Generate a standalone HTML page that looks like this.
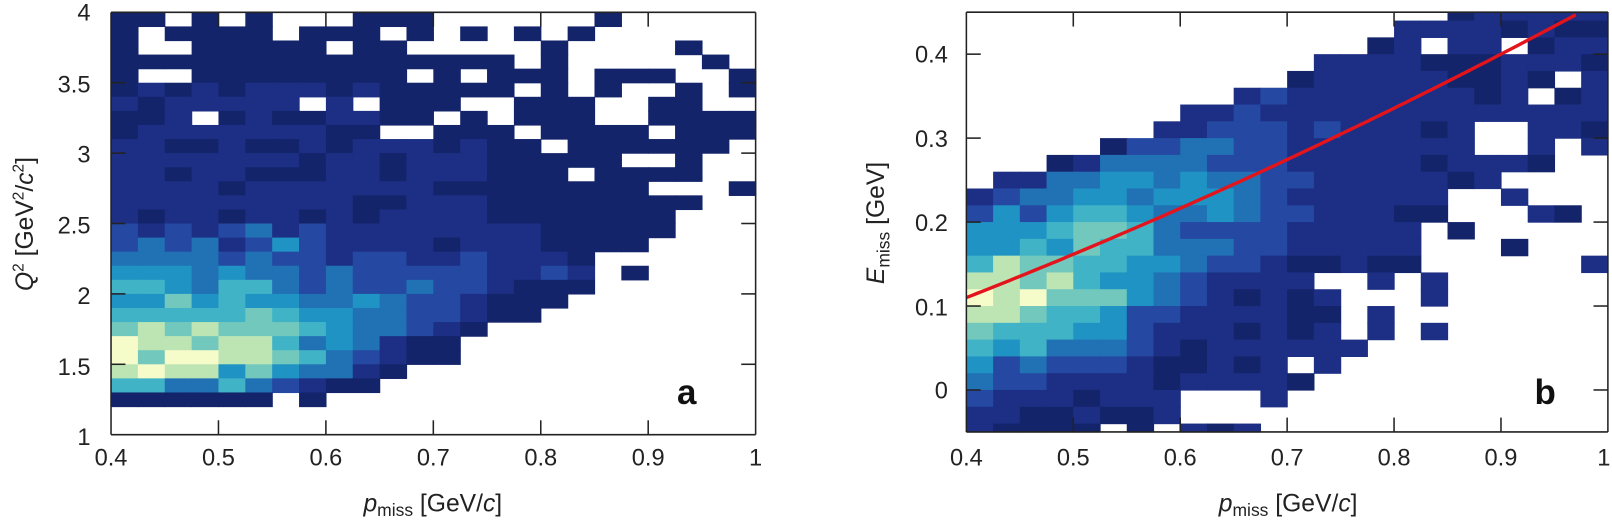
<!DOCTYPE html>
<html><head><meta charset="utf-8">
<style>
html,body{margin:0;padding:0;background:#fff;}
svg{display:block;font-family:"Liberation Sans","DejaVu Sans",sans-serif;}
</style></head>
<body>
<svg id="s" width="1612" height="521" viewBox="0 0 1568 507" preserveAspectRatio="none" xmlns="http://www.w3.org/2000/svg">
<rect width="1568" height="507" fill="#fff"/>
<g id="ga"></g><g id="gb"></g>
<polyline id="red" fill="none" stroke="#e3141b" stroke-width="3.3" points=""/>
<g id="frame" stroke="#222" stroke-width="1.5" fill="none"></g>
<g font-size="23" fill="#222" text-anchor="middle">
<text x="108" y="453">0.4</text><text x="212.5" y="453">0.5</text><text x="317" y="453">0.6</text><text x="421.5" y="453">0.7</text><text x="526" y="453">0.8</text><text x="630.5" y="453">0.9</text><text x="735" y="453">1</text>
<text x="940" y="453">0.4</text><text x="1044" y="453">0.5</text><text x="1148" y="453">0.6</text><text x="1252" y="453">0.7</text><text x="1356" y="453">0.8</text><text x="1460" y="453">0.9</text><text x="1560" y="453">1</text>
</g>
<g font-size="23" fill="#222" text-anchor="end">
<text x="88" y="20">4</text><text x="88" y="90">3.5</text><text x="88" y="158">3</text><text x="88" y="227">2.5</text><text x="88" y="296">2</text><text x="88" y="365">1.5</text><text x="88" y="433">1</text>
<text x="922" y="61">0.4</text><text x="922" y="143">0.3</text><text x="922" y="225">0.2</text><text x="922" y="307">0.1</text><text x="922" y="388">0</text>
</g>
<g font-size="24" fill="#222" text-anchor="middle">
<text x="421" y="498"><tspan font-style="italic">p</tspan><tspan font-size="17" dy="4">miss</tspan><tspan dy="-4"> [GeV/</tspan><tspan font-style="italic">c</tspan>]</text>
<text x="1253" y="498"><tspan font-style="italic">p</tspan><tspan font-size="17" dy="4">miss</tspan><tspan dy="-4"> [GeV/</tspan><tspan font-style="italic">c</tspan>]</text>
<text transform="translate(32,218) rotate(-90)"><tspan font-style="italic">Q</tspan><tspan font-size="15" dy="-9">2</tspan><tspan dy="9"> [GeV</tspan><tspan font-size="15" dy="-9">2</tspan><tspan dy="9">/</tspan><tspan font-style="italic">c</tspan><tspan font-size="15" dy="-9">2</tspan><tspan dy="9">]</tspan></text>
<text transform="translate(860,217) rotate(-90)"><tspan font-style="italic">E</tspan><tspan font-size="17" dy="5">miss</tspan><tspan dy="-5">  [GeV]</tspan></text>
</g>
<text x="668" y="393" font-size="34" font-weight="bold" fill="#111" text-anchor="middle">a</text>
<text x="1503" y="393" font-size="34" font-weight="bold" fill="#111" text-anchor="middle">b</text>
</svg>
<script>
var NS="http://www.w3.org/2000/svg";
var pal=["#ffffff","#14246b","#1d2f85","#2548a2","#2171b5","#1f93c4","#40b4c6","#72c8bc","#bde5b4","#f6fbca"];
function rect(g,x,y,w,h,c){var r=document.createElementNS(NS,"rect");r.setAttribute("x",x.toFixed(2));r.setAttribute("y",y.toFixed(2));r.setAttribute("width",(w+0.6).toFixed(2));r.setAttribute("height",(h+0.6).toFixed(2));r.setAttribute("fill",c);g.appendChild(r);}
function hash(a,b){var h=(a*374761393+b*668265263)>>>0;h=((h^(h>>>13))*1274126177)>>>0;return (h^(h>>>16))%100;}
var A=["110101000111000000100000","101111011101010101000000","100111110110000010000100","111111111111111010000010","100111111110101110111001","111111111111111010100101","111111101011100111001100","111011111111010111001111","111111111100111011110111","111111111111111101111110","111111111111111111100100","111111111111111110111100","111111111111111111110001","111111111111111111111100","111111111111111111111000","323234232222222211111000","343423532222122211110000","444434332332232221000000","555454434333332232010000","665466434334332111000000","557565544543321110000000","666667655443321100000000","787877765443210000000000","988788645421100000000000","979988764321100000000000","898857544210000000000000","664464321100000000000000","111111010000000000000000","000000000000000000000000","000000000000000000000000"];
var ga=document.getElementById("ga");
var ax0=108,ax1=735,ay0=12,ay1=423,cw=(ax1-ax0)/24,rh=(ay1-ay0)/30;
for(var r=0;r<30;r++)for(var c=0;c<24;c++){var v=+A[r][c];if(!v)continue;
 if(r<15&&v==1){var h=hash(r,c);if(r>=9&&c<14&&h<55)v=2;else if(r>=5&&c<10&&h<30)v=2;}
 rect(ga,ax0+c*cw,ay0+r*rh,cw,rh,pal[v]);}
var B=["000000000000000000111111","000000000000000011111111","000000000000000110110111","000000000000012221111111","000000000000122222111101","000000000023222211111011","000000001232222221111111","000000012333232221100111","000001334433222221100101","000124444333222211111100","012445545443322221110000","234455455543222221001000","353566544543322211000110","555677643333222210100000","556576644433222210001000","687766554332112110000001","887865543222100101000000","989777543211110001000000","887665332211110100000000","766655321111110101000000","656444321111111000000000","534333211111010000000000","433222211111100000000000","322111110001000000000000","211111110000000000000000","111110101110000000000000"];
var gb=document.getElementById("gb");
var bx0=940,bx1=1564,bw=(bx1-bx0)/24;
function yE(E){return 379.5-817*E;}
for(var k=0;k<26;k++){var Et=Math.min(0.45,0.46-0.02*k),Eb=Math.max(-0.05,0.44-0.02*k);
 for(var c=0;c<24;c++){var v=+B[k][c];if(!v)continue;
  if(v==1&&hash(k,c+70)<30)v=2;
  rect(gb,bx0+c*bw,yE(Et),bw,yE(Eb)-yE(Et),pal[v]);}}
var pts=[];for(var p=0.4;p<=0.99;p+=0.005){var E=0.11+0.5*(p-0.4)+0.16*Math.pow(p-0.4,2);if(E>0.45)break;pts.push((940+(p-0.4)*1040).toFixed(1)+","+yE(E).toFixed(1));}
document.getElementById("red").setAttribute("points",pts.join(" "));
var fr=document.getElementById("frame");
function line(x1,y1,x2,y2){var l=document.createElementNS(NS,"line");l.setAttribute("x1",x1);l.setAttribute("y1",y1);l.setAttribute("x2",x2);l.setAttribute("y2",y2);fr.appendChild(l);}
function box(x0,y0,x1,y1){line(x0,y0,x1,y0);line(x0,y1,x1,y1);line(x0,y0,x0,y1);line(x1,y0,x1,y1);}
var by0=yE(0.45),by1=yE(-0.05);
box(ax0,ay0,ax1,ay1);box(bx0,by0,bx1,by1);
var T=14;
for(var i=1;i<6;i++){var x=ax0+i*(ax1-ax0)/6;line(x,ay1,x,ay1-T);line(x,ay0,x,ay0+T);
 var xb=bx0+i*(bx1-bx0)/6;line(xb,by1,xb,by1-T);line(xb,by0,xb,by0+T);}
for(var i=1;i<6;i++){var y=ay1-i*(ay1-ay0)/6;line(ax0,y,ax0+T,y);line(ax1,y,ax1-T,y);}
for(var i=0;i<5;i++){var y=yE(0.1*i);line(bx0,y,bx0+T,y);line(bx1,y,bx1-T,y);}
</script>
</body></html>
